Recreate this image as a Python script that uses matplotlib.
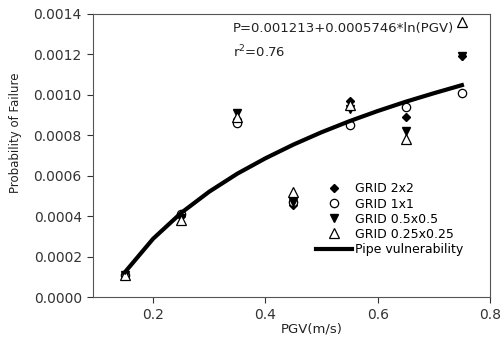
import matplotlib
matplotlib.use('Agg')
import matplotlib.pyplot as plt

pgv = [0.15, 0.25, 0.35, 0.45, 0.55, 0.65, 0.75]
grid_2x2 = [0.00011, 0.00040, 0.00088, 0.000455, 0.00097, 0.00089, 0.00119]
grid_1x1 = [0.00011, 0.00041, 0.00086, 0.00047, 0.00085, 0.00094, 0.00101]
grid_05 = [0.00011, 0.00039, 0.00091, 0.00047, 0.00093, 0.00082, 0.00119]
grid_025 = [0.00011, 0.00038, 0.00089, 0.00052, 0.00095, 0.00078, 0.00136]

# fitted curve
curve_x = [0.15, 0.2, 0.25, 0.3, 0.35, 0.4, 0.45, 0.5, 0.55, 0.6, 0.65, 0.7, 0.75]
curve_y = [0.000123, 0.000288, 0.000416, 0.000521, 0.000610, 0.000686, 0.000754,
           0.000815, 0.000870, 0.000920, 0.000966, 0.001008, 0.001048]

plt.rcParams['font.family'] = ['DejaVu Sans']

fig = plt.figure(figsize=(5.01, 3.38), dpi=100)
ax = fig.add_axes([0.1856, 0.1213, 0.7924, 0.8373])

ax.plot(pgv, grid_2x2, 'D', color='black', ms=4.5, label='GRID 2x2')
ax.plot(pgv, grid_1x1, 'o', mfc='white', mec='black', ms=6, mew=0.9, label='GRID 1x1')
ax.plot(pgv, grid_05, 'v', color='black', ms=6, label='GRID 0.5x0.5')
ax.plot(pgv, grid_025, '^', mfc='white', mec='black', ms=6.5, mew=0.9, label='GRID 0.25x0.25')
ax.plot(curve_x, curve_y, '-', color='black', lw=3, label='Pipe vulnerability')

ax.set_xlim(0.093, 0.8)
ax.set_ylim(0, 0.0014)
ax.set_xticks([0.2, 0.4, 0.6, 0.8])
ax.set_xticklabels(['0.2', '0.4', '0.6', '0.8'])
ax.set_yticks([0, 0.0002, 0.0004, 0.0006, 0.0008, 0.0010, 0.0012, 0.0014])
ax.set_yticklabels(['0.0000', '0.0002', '0.0004', '0.0006', '0.0008', '0.0010', '0.0012', '0.0014'])
ax.tick_params(direction='out', length=4, labelsize=10, colors='#333333', pad=4)
for s in ax.spines.values():
    s.set_color('#555555')

ax.set_xlabel('PGV(m/s)', fontsize=9.5, color='#222222')
ax.xaxis.set_label_coords(0.552, -0.09)
ax.set_ylabel('Probability of Failure', fontsize=8.5, color='#222222')
ax.yaxis.set_label_coords(-0.18, 0.58)

ax.text(0.342, 0.00133, 'P=0.001213+0.0005746*ln(PGV)', fontsize=9.5, va='center', color='#222222')
ax.text(0.342, 0.00121, 'r$^2$=0.76', fontsize=9.5, va='center', color='#222222')

ax.legend(loc='upper left', bbox_to_anchor=(0.562, 0.405), frameon=False, fontsize=9,
          borderaxespad=0, borderpad=0, handlelength=2.9, labelspacing=0.17,
          handletextpad=0.2, numpoints=1)

fig.savefig('out.png', dpi=100)
